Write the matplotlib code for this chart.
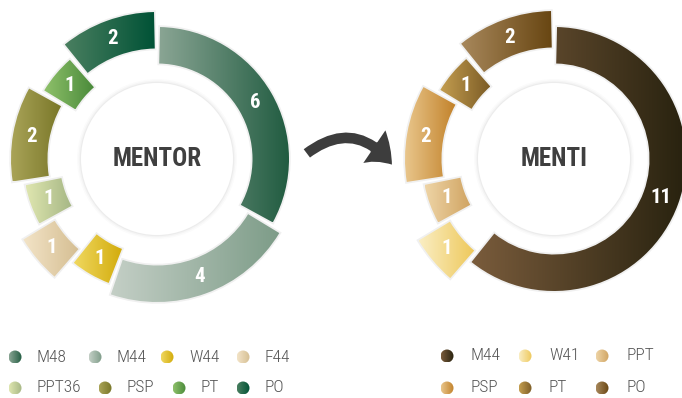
import numpy as np
import matplotlib
matplotlib.use("Agg")
import matplotlib.pyplot as plt
from matplotlib.colors import LinearSegmentedColormap
from matplotlib.patches import Circle, FancyArrowPatch

mentor_labels = ["M48", "M44", "W44", "F44", "PPT36", "PSP", "PT", "PO"]
mentor_values = [6, 4, 1, 1, 1, 2, 1, 2]
menti_labels = ["M44", "W41", "PPT", "PSP", "PT", "PO"]
menti_values = [11, 1, 1, 2, 1, 2]

# gradient ends (left -> right) for every slice
mentor_colors = [("#8aa594", "#215c41"), ("#c4cfc6", "#7d9c88"), ("#f0d860", "#d2ab0a"),
                 ("#f3e4c8", "#d5be92"), ("#dfe6b0", "#a6b785"), ("#aaa458", "#787628"),
                 ("#8fc16b", "#4a8a3a"), ("#4a7f60", "#005236")]
menti_colors = [("#7a5c3c", "#28220f"), ("#faeec4", "#eec85a"), ("#eed4a6", "#d0a462"),
                ("#e9c68c", "#c2822a"), ("#c49e50", "#7c5c26"), ("#a8885c", "#684612")]

# slices sit at staggered radii in the original (px)
mentor_outer = [132, 143, 133, 156, 134, 146, 132, 147]
menti_outer = [132, 158, 132, 149, 133, 148]
RING_W = 36.5

W, H = 682, 398
FONT = ["Roboto Condensed", "DejaVu Sans"]

fig = plt.figure(figsize=(W / 100, H / 100), dpi=100)
ax = fig.add_axes([0, 0, 1, 1])


def grad_fill(patch, ext, c1, c2, z):
    cmap = LinearSegmentedColormap.from_list("g", [c1, c2])
    g = np.linspace(0, 1, 256).reshape(1, -1)
    im = ax.imshow(g, cmap=cmap, extent=ext, aspect="auto",
                   interpolation="bilinear", zorder=z)
    im.set_clip_path(patch)


def donut(cx, cy, values, colors, outer, title):
    wedges, _ = ax.pie(values, center=(cx, cy), radius=1, startangle=90,
                       counterclock=False, wedgeprops=dict(width=0.3))
    for w, v, (c1, c2), r in zip(wedges, values, colors, outer):
        rm = r - RING_W / 2
        gap = np.degrees(2.6 / rm)
        w.set_radius(r)
        w.set_width(RING_W)
        w.set_theta1(w.theta1 + gap)
        w.set_theta2(w.theta2 - gap)
        w.set_facecolor("none")
        w.set_edgecolor((0, 0, 0, 0.06))
        w.set_linewidth(2.5)
        w.set_zorder(2)
        x0, y0, x1, y1 = w.get_path().get_extents().extents
        grad_fill(w, [x0, x1, y0, y1], c1, c2, 3)
        a = np.radians((w.theta1 + w.theta2) / 2)
        ax.text(cx + rm * np.cos(a), cy + rm * np.sin(a), str(v), color="white",
                fontsize=15, fontweight="bold", family=FONT,
                ha="center", va="center", zorder=5)
    # centre disc with soft halo
    for k, al in zip([4, 2.5, 1.2], [0.015, 0.025, 0.035]):
        ax.add_patch(Circle((cx, cy), 76 + k, color="black", alpha=al, lw=0, zorder=3))
    ax.add_patch(Circle((cx, cy), 76, color="white", lw=0, zorder=4))
    ax.text(cx, cy, title, color="#3f3f3f", fontsize=18, fontweight="bold",
            family=FONT, ha="center", va="center", zorder=5)


def legend(labels, colors, xs, ys, dx):
    for lab, (c1, c2), x, y in zip(labels, colors, xs, ys):
        y = H - y
        c = Circle((x, y), 6.5, facecolor="none", edgecolor="none")
        ax.add_patch(c)
        grad_fill(c, [x - 6.5, x + 6.5, y - 6.5, y + 6.5], c1, c2, 3)
        ax.text(x + dx, y, lab, color="#555555", fontsize=12.5, fontweight="light",
                family=FONT, ha="left", va="center")


donut(157, H - 159, mentor_values, mentor_colors, mentor_outer, "MENTOR")
donut(554, H - 159, menti_values, menti_colors, menti_outer, "MENTI")

legend(mentor_labels, mentor_colors,
       [15, 95, 167, 243, 15, 105, 179, 243],
       [357, 357, 357, 357, 388, 388, 388, 388], 22)
legend(menti_labels, menti_colors,
       [447, 525, 602, 447, 525, 602],
       [356, 356, 356, 388, 388, 388], 24)

arrow = FancyArrowPatch((306, H - 154), (393, H - 166),
                        arrowstyle="simple,tail_width=9,head_width=32,head_length=20",
                        connectionstyle="arc3,rad=-0.5", mutation_scale=1,
                        shrinkA=0, shrinkB=0, facecolor="#3d3d3d",
                        edgecolor="white", lw=1.5, zorder=6)
ax.add_patch(arrow)

ax.set_aspect("auto")
ax.set_xlim(0, W)
ax.set_ylim(0, H)
ax.axis("off")
fig.savefig("out.png", dpi=100, facecolor="white")
